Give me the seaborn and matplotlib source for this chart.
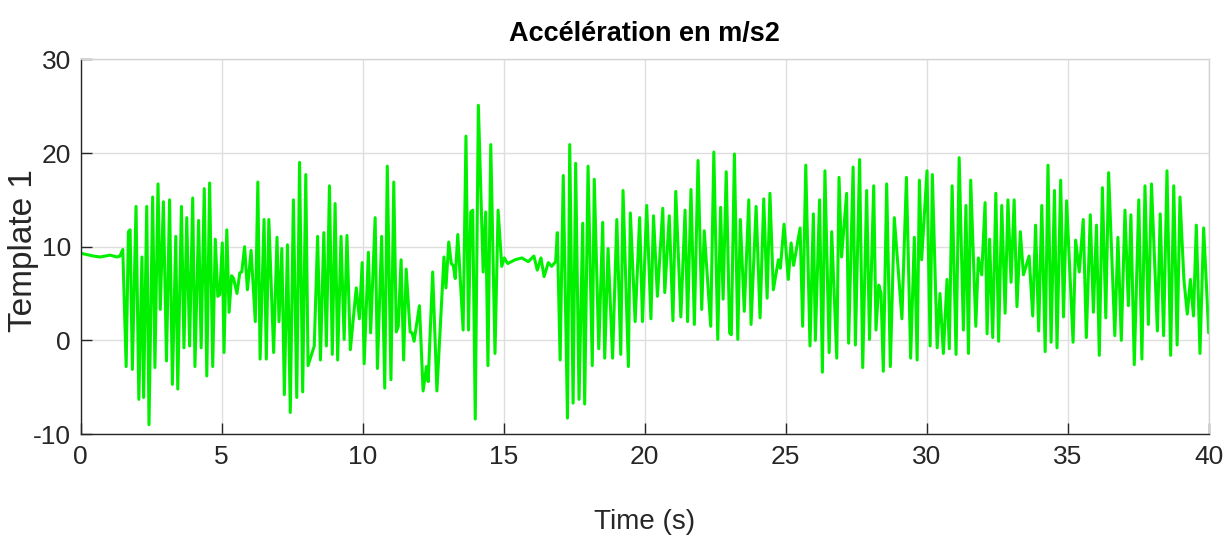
import numpy as np
import pandas as pd
import matplotlib
matplotlib.use("Agg")
import matplotlib.pyplot as plt
import seaborn as sns

# ---- data (time in s, acceleration in m/s2) ----
t_seg1 = [0.0, 0.45, 0.69, 1.04, 1.28, 1.39, 1.49, 1.61, 1.69, 1.75, 1.83, 1.96, 2.06, 2.17, 2.23,
          2.34, 2.42, 2.55, 2.63, 2.74, 2.82, 2.93, 3.04, 3.15, 3.25, 3.37, 3.44, 3.57, 3.66, 3.76,
          3.86, 3.97, 4.05, 4.18, 4.27, 4.38, 4.47, 4.57]
a_seg1 = [9.3, 9.0, 8.9, 9.1, 8.9, 9.0, 9.7, -2.8, 11.6, 11.8, -3.1, 14.3, -6.3, 8.9, -6.1,
          14.3, -9.0, 15.3, -2.9, 16.7, 3.3, 14.8, -2.2, 15.0, -4.7, 11.1, -5.2, 14.3, -0.8, 13.1,
          -0.6, 15.2, -2.8, 12.8, -0.8, 16.2, -3.8, 16.8]

t_seg2 = [4.68, 4.77, 4.86, 4.93, 5.02, 5.08, 5.18, 5.26, 5.35, 5.42, 5.54, 5.64, 5.71, 5.81, 5.91,
          6.04, 6.19, 6.28, 6.36, 6.50, 6.58, 6.67, 6.84, 6.96, 7.03, 7.13, 7.22, 7.33, 7.43, 7.54,
          7.66, 7.76, 7.87, 7.98, 8.06, 8.28, 8.40, 8.50, 8.62, 8.71, 8.82, 8.92, 9.02]
a_seg2 = [-2.8, 10.8, 4.7, 4.9, 10.4, -1.3, 11.8, 3.0, 6.9, 6.6, 5.0, 7.2, 7.3, 10.0, 5.4,
          9.6, 2.0, 16.9, -2.0, 12.9, -2.0, 12.9, -1.3, 11.0, 2.0, 9.8, -5.8, 10.2, -7.7, 15.0,
          -6.1, 19.0, -5.5, 17.7, -2.7, -0.6, 11.1, -2.1, 11.5, -0.6, 16.5, -1.5, 14.6]

t_seg3 = [9.11, 9.23, 9.34, 9.44, 9.56, 9.77, 9.88, 9.98, 10.05, 10.20, 10.28, 10.44, 10.52, 10.67,
          10.78, 10.87, 11.00, 11.10, 11.19, 11.26, 11.36, 11.45, 11.54, 11.68, 11.75, 11.82, 12.01,
          12.14, 12.26, 12.32, 12.48, 12.63, 12.88, 12.95, 13.05, 13.14, 13.21, 13.28, 13.37]
a_seg3 = [-2.1, 11.1, 0.1, 11.2, -1.0, 5.6, 2.3, 8.3, -2.5, 9.4, 0.8, 13.1, -3.0, 11.1,
          -5.1, 18.6, -4.2, 16.9, 0.9, 1.5, 8.6, -2.1, 7.6, 0.9, 0.8, -0.1, 3.7,
          -5.4, -2.8, -4.4, 7.3, -5.4, 8.9, 5.6, 10.5, 8.2, 8.0, 6.6, 11.3]

t_seg4 = [13.56, 13.66, 13.75, 13.83, 13.90, 13.99, 14.10, 14.27, 14.36, 14.44, 14.54, 14.69, 14.80,
          14.93, 15.02, 15.14, 15.40, 15.64, 15.87, 16.07, 16.19, 16.32, 16.43, 16.58, 16.70, 16.84,
          16.90, 17.00, 17.11, 17.26, 17.34, 17.46, 17.55, 17.67, 17.80]
a_seg4 = [1.1, 21.8, 1.1, 13.7, 13.9, -8.4, 25.1, 7.3, 13.7, -2.7, 20.9, -1.4, 13.9,
          7.9, 8.8, 8.2, 8.6, 8.8, 8.4, 9.0, 7.5, 8.8, 6.8, 8.3, 7.9, 8.4,
          11.5, -2.1, 17.6, -8.3, 20.9, -6.7, 18.9, -6.3, 12.5]

t_seg5 = [17.87, 17.99, 18.14, 18.21, 18.37, 18.51, 18.58, 18.70, 18.86, 19.01, 19.15, 19.23, 19.42,
          19.49, 19.66, 19.82, 19.92, 20.07, 20.22, 20.31, 20.45, 20.64, 20.71, 20.87, 21.00, 21.10,
          21.28, 21.43, 21.52, 21.64, 21.76, 21.89, 22.02, 22.11, 22.34]
a_seg5 = [-6.8, 18.6, -2.7, 17.2, -0.9, 12.6, -1.9, 9.8, -1.9, 12.9, -1.5, 16.0, -2.8,
          13.6, 2.0, 13.1, 2.0, 14.4, 2.3, 13.3, 4.7, 14.1, 5.1, 13.3, 2.1, 15.9,
          2.5, 13.9, 2.0, 16.1, 1.7, 19.2, 3.3, 11.7, 1.5]

t_seg6 = [22.45, 22.59, 22.69, 22.78, 22.89, 23.01, 23.07, 23.18, 23.30, 23.39, 23.53, 23.69, 23.77,
          23.95, 24.09, 24.22, 24.34, 24.44, 24.56, 24.74, 24.81, 24.94, 25.09, 25.19, 25.28, 25.51,
          25.60, 25.71, 25.86, 25.98, 26.05, 26.20, 26.30, 26.39, 26.54, 26.63]
a_seg6 = [20.1, 0.1, 14.2, 4.4, 18.0, 0.8, 0.6, 19.9, 0.1, 12.9, 3.1, 15.0, 1.7,
          14.3, 2.4, 15.1, 4.5, 15.7, 5.4, 8.6, 7.7, 12.4, 6.5, 10.4, 8.0, 12.0,
          1.5, 18.7, -0.6, 13.5, 0.0, 15.0, -3.4, 18.1, -1.3, 11.6]

t_seg7 = [26.81, 26.89, 26.98, 27.16, 27.23, 27.39, 27.47, 27.62, 27.73, 27.87, 27.97, 28.12, 28.20,
          28.30, 28.38, 28.46, 28.58, 28.71, 28.85, 29.12, 29.28, 29.43, 29.56, 29.66, 29.74, 29.82,
          30.01, 30.12, 30.20, 30.37, 30.47, 30.59, 30.72, 30.80, 30.90, 31.04, 31.15]
a_seg7 = [-1.9, 17.4, 8.9, 15.7, -0.3, 18.5, -0.5, 19.3, -2.9, 16.0, 0.1, 16.5, 1.1,
          5.9, 5.0, -3.3, 16.7, -2.8, 13.1, 2.3, 17.4, -1.9, 11.0, -2.1, 17.1, 8.6,
          18.1, -0.6, 17.7, -0.8, 5.0, -1.4, 6.5, -0.9, 16.5, -1.5, 19.5]

t_seg8 = [31.30, 31.39, 31.48, 31.56, 31.74, 31.83, 31.95, 32.07, 32.14, 32.23, 32.34, 32.45, 32.55,
          32.66, 32.78, 32.88, 32.99, 33.10, 33.20, 33.32, 33.43, 33.63, 33.76, 33.86, 33.97, 34.08,
          34.20, 34.30, 34.41, 34.53, 34.62, 34.75, 34.85, 34.96, 35.19, 35.28, 35.41, 35.55]
a_seg8 = [1.1, 14.4, -1.4, 17.1, 1.5, 8.8, 7.0, 14.7, 0.7, 10.8, 0.3, 15.7, -0.1,
          14.4, 2.9, 15.0, 6.2, 15.0, 3.6, 11.6, 7.0, 9.0, 2.6, 12.3, 1.0, 14.4,
          -1.2, 18.7, -0.2, 16.0, -0.8, 17.1, 2.5, 14.9, -0.2, 10.7, 7.3, 12.9]

t_seg9 = [35.66, 35.80, 35.91, 36.02, 36.12, 36.23, 36.35, 36.45, 36.67, 36.78, 36.90, 37.03, 37.15,
          37.24, 37.36, 37.52, 37.63, 37.74, 37.86, 37.97, 38.18, 38.28, 38.40, 38.52, 38.65, 38.76,
          38.88, 38.98, 39.12, 39.24, 39.35, 39.46, 39.56, 39.69, 39.82, 40.0]
a_seg9 = [0.3, 13.4, 3.0, 12.3, -1.6, 16.3, 2.4, 17.9, 0.5, 11.0, 0.0, 13.9, 3.7,
          13.4, -2.6, 15.0, -2.0, 16.5, 1.7, 16.7, 1.0, 13.5, 0.5, 18.1, -1.6, 16.5,
          -0.5, 15.3, 6.5, 2.8, 6.5, 2.6, 12.3, -1.4, 12.0, 0.8]

x_ticks = [0, 5, 10, 15, 20, 25, 30, 35, 40]
y_ticks = [-10, 0, 10, 20, 30]
title = "Accélération en m/s2"
x_label = "Time (s)"
y_label = "Template 1"

times = t_seg1 + t_seg2 + t_seg3 + t_seg4 + t_seg5 + t_seg6 + t_seg7 + t_seg8 + t_seg9
accel = a_seg1 + a_seg2 + a_seg3 + a_seg4 + a_seg5 + a_seg6 + a_seg7 + a_seg8 + a_seg9
df = pd.DataFrame({"t": times, "a": accel})

# ---- styling ----
sns.set_theme(style="whitegrid")
plt.rcParams["font.family"] = ["Liberation Sans", "DejaVu Sans"]
plt.rcParams["axes.unicode_minus"] = False
dark = "#262626"

fig = plt.figure(figsize=(12.31, 5.51), dpi=100)
fig.patch.set_facecolor("white")
ax = fig.add_axes([0.0656, 0.2123, 0.9163, 0.6800])
ax.set_facecolor("white")

sns.lineplot(data=df, x="t", y="a", ax=ax, color="#00f000", linewidth=2.2,
             estimator=None, sort=False)

ax.set_xlim(0, 40)
ax.set_ylim(-10, 30)
ax.set_xticks(x_ticks)
ax.set_yticks(y_ticks)
ax.grid(True, color="#dedede", linewidth=1.0)
ax.set_axisbelow(True)

for side in ["left", "bottom"]:
    ax.spines[side].set_color(dark)
    ax.spines[side].set_linewidth(1.0)
    ax.spines[side].set_visible(True)
for side in ["top", "right"]:
    ax.spines[side].set_color("#d4d4d4")
    ax.spines[side].set_linewidth(1.0)
    ax.spines[side].set_visible(True)

ax.tick_params(axis="both", which="major", direction="in", length=8, width=1,
               color=dark, labelcolor=dark, labelsize=19)
ax.tick_params(axis="x", pad=8, bottom=True, top=False)
ax.tick_params(axis="y", pad=7, left=True, right=False)

ax.set_title(title, fontsize=19.5, fontweight="bold", color="black", pad=13)
ax.set_xlabel(x_label, fontsize=20, color=dark)
ax.xaxis.set_label_coords(0.5, -0.20)
ax.set_ylabel(y_label, fontsize=24, color=dark)
ax.yaxis.set_label_coords(-0.037, 0.49)

fig.savefig("out.png", dpi=100, facecolor="white")
